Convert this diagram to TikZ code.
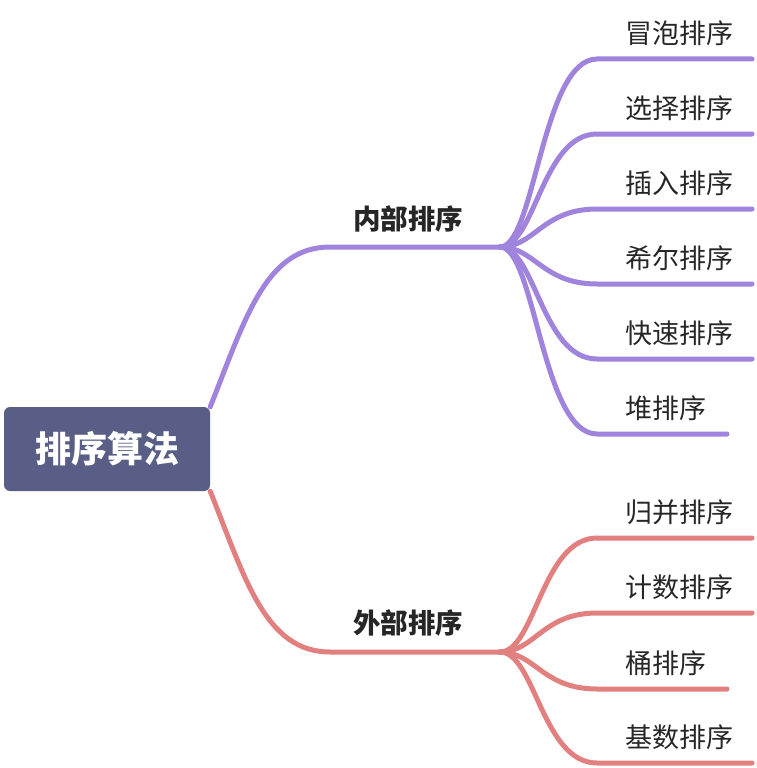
\documentclass[tikz,border=0pt]{standalone}
\usepackage{fontspec}
\newfontfamily\cjk{Noto Sans CJK SC}
\usepackage{tikz}
\usetikzlibrary{positioning}
\definecolor{rootblue}{RGB}{89,94,134}
\definecolor{lilac}{RGB}{160,131,221}
\definecolor{salmon}{RGB}{226,128,128}
\definecolor{inkgray}{RGB}{38,38,38}

\begin{document}
\begin{tikzpicture}[x=1pt, y=-1pt,
  rootbox/.style={rounded corners=6pt, fill=rootblue, text=white, font=\cjk\bfseries\fontsize{36}{40}\selectfont, minimum width=206pt, minimum height=84pt, inner sep=0pt},
  grouplabel/.style={font=\cjk\bfseries\fontsize{27.5}{31}\selectfont, text=inkgray, anchor=west, inner sep=0pt},
  leaflabel/.style={font=\cjk\fontsize{27}{31}\selectfont, text=inkgray, anchor=west, inner sep=0pt},
  branch/.style={line width=5pt, line cap=round}]
\useasboundingbox (0,0) rectangle (756,768);

% root
\node[rootbox] (root) at (107,449) {排序算法};

%% upper group
\coordinate (inA) at (330,247);
\coordinate (inJ) at (500,247);
\node[grouplabel] (inner) at (353,219) {内部排序};
\draw[branch, lilac] (root.north east) .. controls (245,320) and (265,247) .. (inA) -- (inJ);

\foreach \name/\yy/\xend/\txt in {bubble/59/752/冒泡排序, select/134/752/选择排序, insert/209/752/插入排序, shell/284/752/希尔排序, quick/359/752/快速排序, heap/434/727/堆排序}{
  \coordinate (\name s) at (597,\yy);
  \coordinate (\name e) at (\xend,\yy);
  \node[leaflabel] (\name) at (625,\yy-26) {\txt};
  \draw[branch, lilac] (inJ) .. controls +(35,0) and +(-55,0) .. (\name s) -- (\name e);
}

%% lower group
\coordinate (outA) at (330,652);
\coordinate (outJ) at (500,652);
\node[grouplabel] (outer) at (353,623) {外部排序};
\draw[branch, salmon] (root.south east) .. controls (245,578) and (265,652) .. (outA) -- (outJ);

\foreach \name/\yy/\xend/\txt in {merge/538/752/归并排序, count/613/752/计数排序, bucket/689/727/桶排序, radix/763/752/基数排序}{
  \coordinate (\name s) at (597,\yy);
  \coordinate (\name e) at (\xend,\yy);
  \node[leaflabel] (\name) at (625,\yy-26) {\txt};
  \draw[branch, salmon] (outJ) .. controls +(35,0) and +(-55,0) .. (\name s) -- (\name e);
}

\end{tikzpicture}
\end{document}
